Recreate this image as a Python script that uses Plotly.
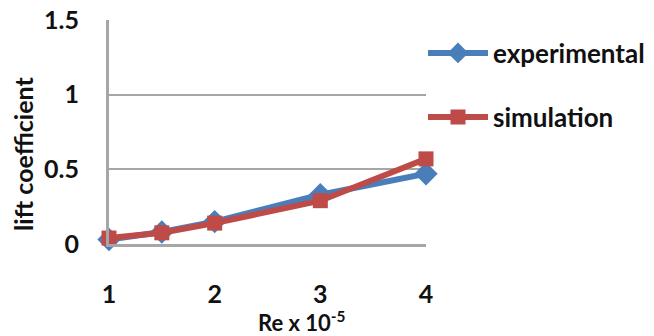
import plotly.graph_objects as go

# Reynolds number (x 1e-5) and lift coefficients
re_values = [1, 1.5, 2, 3, 4]
experimental = [0.03, 0.08, 0.15, 0.33, 0.47]
simulation = [0.04, 0.075, 0.14, 0.29, 0.57]

x_ticks = [1, 2, 3, 4]
y_ticks = [0, 0.5, 1, 1.5]
y_tick_text = ["0", "0.5", "1", "1.5"]

BLUE = "#4A7EBB"
RED = "#BE4B48"
GRID = "#A6A6A6"
FONT = dict(family="Lato", size=25, color="#111111", weight="bold")
LEGEND_FONT = dict(family="Lato", size=26, color="#111111", weight="bold")
TITLE_FONT = dict(family="Lato", size=25, color="#111111", weight="bold")

# figure and plot-area geometry in pixels
W, H = 654, 336
L, R, T, B = 109, 228, 20, 92
pw, ph = W - L - R, H - T - B


def px_x(x):
    return (x - L) / pw


def px_y(y):
    return (H - B - y) / ph


fig = go.Figure()
fig.add_trace(go.Scatter(
    x=re_values, y=experimental, name="experimental", mode="lines+markers",
    line=dict(color=BLUE, width=6), marker=dict(symbol="diamond", size=18, color=BLUE),
    cliponaxis=False, legend="legend", showlegend=True,
))
fig.add_trace(go.Scatter(
    x=re_values, y=simulation, name="simulation", mode="lines+markers",
    line=dict(color=RED, width=6), marker=dict(symbol="square", size=15, color=RED),
    cliponaxis=False, legend="legend2", showlegend=True,
))

legend_common = dict(xref="container", yref="container", xanchor="left", yanchor="middle",
                     font=LEGEND_FONT, itemwidth=60, bgcolor="rgba(0,0,0,0)", borderwidth=0)

fig.update_layout(
    width=W, height=H,
    margin=dict(l=L, r=R, t=T, b=B, autoexpand=False),
    paper_bgcolor="white", plot_bgcolor="white",
    font=FONT,
    showlegend=True,
    legend=dict(legend_common, x=423 / W, y=1 - 53 / H),
    legend2=dict(legend_common, x=423 / W, y=1 - 117 / H),
    xaxis=dict(range=[1, 4], tickvals=x_ticks, showgrid=False, zeroline=False,
               showline=True, linecolor=GRID, linewidth=3, ticks="",
               ticklabelstandoff=26, tickfont=FONT),
    yaxis=dict(range=[0, 1.5], tickvals=y_ticks, ticktext=y_tick_text,
               showgrid=True, gridcolor=GRID, gridwidth=2, zeroline=False,
               showline=True, linecolor=GRID, linewidth=3, ticks="",
               ticklabelstandoff=22, tickfont=FONT),
    annotations=[
        dict(text="Re x 10<sup>-5</sup>", xref="paper", yref="paper",
             x=px_x(302), y=px_y(321), xanchor="center", yanchor="middle",
             showarrow=False, font=dict(TITLE_FONT, size=22)),
        dict(text="lift coefficient", textangle=-90, xref="paper", yref="paper",
             x=px_x(23), y=px_y(154), xanchor="center", yanchor="middle",
             showarrow=False, font=TITLE_FONT),
    ],
)

fig.write_html("out.html")
